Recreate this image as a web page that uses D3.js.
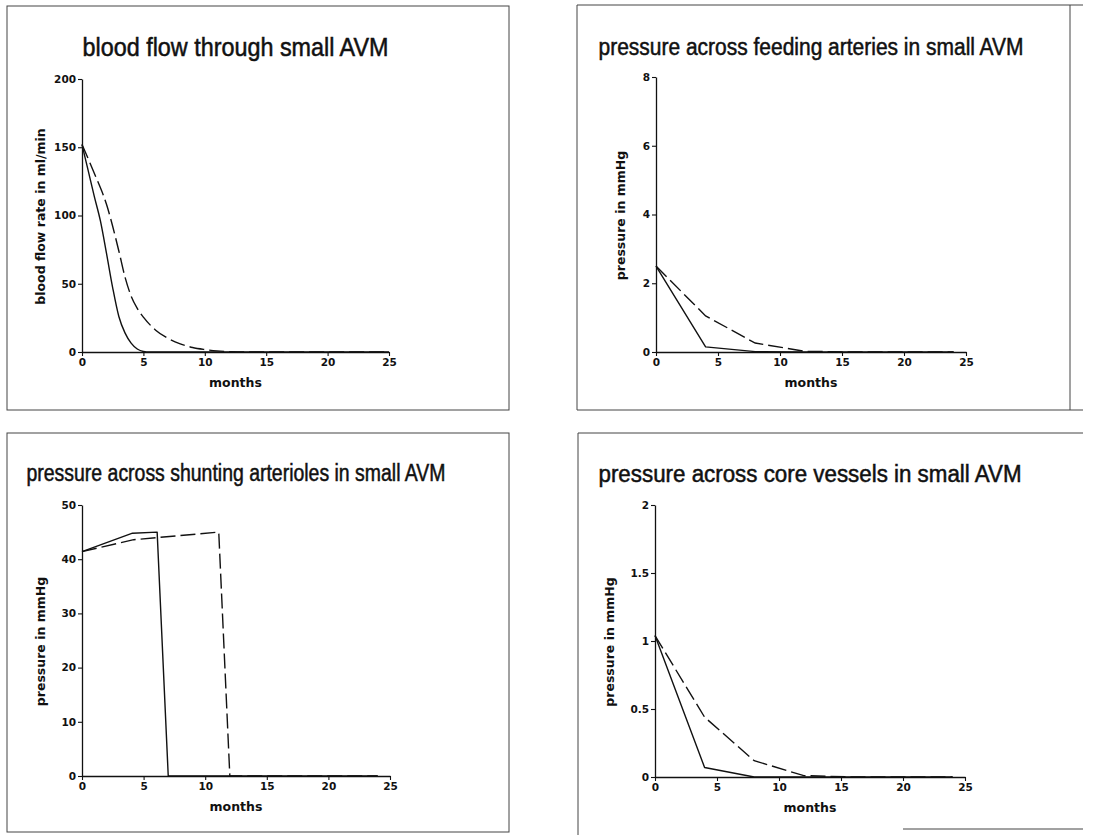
<!DOCTYPE html>
<html>
<head>
<meta charset="utf-8">
<script src="https://cdn.jsdelivr.net/npm/d3@7"></script>
<style>
  html, body { margin: 0; padding: 0; background: #fff; }
  svg { display: block; }
  .tick text { font-family: "DejaVu Sans", sans-serif; font-weight: bold; font-size: 10.5px; fill: #111; }
  .axis-label { font-family: "DejaVu Sans", sans-serif; font-weight: bold; font-size: 12.5px; fill: #111; }
  .title { font-family: "Liberation Sans", Arial, sans-serif; font-weight: normal; fill: #111; stroke: #111; stroke-width: 0.5px; }
</style>
</head>
<body>
<svg id="chart" width="1109" height="835"></svg>
<script>
// ---------- data ----------
const monthTicks = [0, 5, 10, 15, 20, 25];
const monthTickLabels = ["0", "5", "10", "15", "20", "25"];

const titles = [
  "blood flow through small AVM",
  "pressure across feeding arteries in small AVM",
  "pressure across shunting arterioles in small AVM",
  "pressure across core vessels in small AVM"
];
const yAxisLabels = ["blood flow rate in ml/min", "pressure in mmHg", "pressure in mmHg", "pressure in mmHg"];
const xAxisLabel = "months";

// panel 1: blood flow (ml/min)
const flowTicks = [0, 50, 100, 150, 200];
const flowTickLabels = ["0", "50", "100", "150", "200"];
const flowSolidMonths = [0, 0.5, 1, 1.5, 2, 2.5, 3, 3.5, 4, 4.5, 5, 5.5, 25];
const flowSolidValues = [152, 133, 114, 96, 72, 47, 26, 14, 6.5, 2.2, 0.4, 0, 0];
const flowDashedMonths = [0, 1, 2, 3, 3.5, 4, 4.5, 5, 6, 7, 8, 9, 10, 11, 12, 13, 25];
const flowDashedValues = [152, 131, 108, 74, 55, 41, 32, 25.5, 16, 10, 6, 3.3, 1.8, 0.8, 0.3, 0, 0];

// panel 2: feeding arteries (mmHg)
const feedTicks = [0, 2, 4, 6, 8];
const feedTickLabels = ["0", "2", "4", "6", "8"];
const feedMonths = [0, 4, 8, 12, 16, 20, 24];
const feedSolidValues = [2.5, 0.15, 0.01, 0, 0, 0, 0];
const feedDashedValues = [2.5, 1.05, 0.26, 0.02, 0, 0, 0];

// panel 3: shunting arterioles (mmHg)
const shuntTicks = [0, 10, 20, 30, 40, 50];
const shuntTickLabels = ["0", "10", "20", "30", "40", "50"];
const shuntSolidMonths = [0, 4.1, 6.1, 7.0, 24];
const shuntSolidValues = [41.4, 44.8, 45.0, 0, 0];
const shuntDashedMonths = [0, 4.2, 11.1, 12.0, 24];
const shuntDashedValues = [41.4, 43.6, 45.0, 0, 0];

// panel 4: core vessels (mmHg)
const coreTicks = [0, 0.5, 1, 1.5, 2];
const coreTickLabels = ["0", "0.5", "1", "1.5", "2"];
const coreMonths = [0, 4, 8, 12, 16, 20, 24];
const coreSolidValues = [1.04, 0.07, 0, 0, 0, 0, 0];
const coreDashedValues = [1.04, 0.44, 0.12, 0.01, 0, 0, 0];

// ---------- layout ----------
const zip = (xs, ys) => xs.map((x, i) => ({ x, y: ys[i] }));

const panels = [
  { x0: 82, x1: 389, yTop: 79, yBot: 352, yMax: 200, ticks: flowTicks, tickLabels: flowTickLabels,
    title: titles[0], titleBase: 56, titleW: 306, titleFs: 25, yLab: yAxisLabels[0], yLabX: 44.5,
    curve: d3.curveMonotoneX,
    solid: zip(flowSolidMonths, flowSolidValues), dashed: zip(flowDashedMonths, flowDashedValues) },
  { x0: 656, x1: 966, yTop: 77, yBot: 352, yMax: 8, ticks: feedTicks, tickLabels: feedTickLabels,
    title: titles[1], titleBase: 55, titleW: 425, titleFs: 23, yLab: yAxisLabels[1], yLabX: 625,
    curve: d3.curveLinear,
    solid: zip(feedMonths, feedSolidValues), dashed: zip(feedMonths, feedDashedValues) },
  { x0: 82, x1: 390, yTop: 505, yBot: 776, yMax: 50, ticks: shuntTicks, tickLabels: shuntTickLabels,
    title: titles[2], titleBase: 481, titleW: 419, titleFs: 23, yLab: yAxisLabels[2], yLabX: 44.5,
    curve: d3.curveLinear,
    solid: zip(shuntSolidMonths, shuntSolidValues), dashed: zip(shuntDashedMonths, shuntDashedValues) },
  { x0: 655, x1: 965, yTop: 505, yBot: 777, yMax: 2, ticks: coreTicks, tickLabels: coreTickLabels,
    title: titles[3], titleBase: 481.5, titleW: 423, titleFs: 23, yLab: yAxisLabels[3], yLabX: 614,
    curve: d3.curveLinear,
    solid: zip(coreMonths, coreSolidValues), dashed: zip(coreMonths, coreDashedValues) }
];

const svg = d3.select("#chart");

// ---------- frames ----------
const frameColor = "#444";
const frames = svg.append("g").attr("fill", "none").attr("stroke", frameColor).attr("stroke-width", 1);
frames.append("rect").attr("x", 7).attr("y", 6).attr("width", 502).attr("height", 404);
frames.append("rect").attr("x", 7).attr("y", 433).attr("width", 502).attr("height", 399);
frames.append("path").attr("d", "M577,410 L577,5 L1083,5 M577,410 L1083,410 M1070,5 L1070,410");
frames.append("path").attr("d", "M578,835 L578,433 L1083,433 M903,829 L1083,829");

// ---------- panels ----------
panels.forEach(p => {
  const g = svg.append("g");
  const x = d3.scaleLinear().domain([0, 25]).range([p.x0, p.x1]);
  const y = d3.scaleLinear().domain([0, p.yMax]).range([p.yBot, p.yTop]);

  const yAxis = d3.axisLeft(y).tickValues(p.ticks).tickFormat((d, i) => p.tickLabels[i])
    .tickSize(4).tickPadding(2).tickSizeOuter(0);
  const xAxis = d3.axisBottom(x).tickValues(monthTicks).tickFormat((d, i) => monthTickLabels[i])
    .tickSize(4).tickPadding(3).tickSizeOuter(0);

  const ya = g.append("g").attr("transform", `translate(${p.x0},0)`).call(yAxis);
  const xa = g.append("g").attr("transform", `translate(0,${p.yBot})`).call(xAxis);
  [ya, xa].forEach(a => {
    a.select(".domain").attr("stroke", "#111").attr("stroke-width", 1.3);
    a.selectAll(".tick line").attr("stroke", "#111").attr("stroke-width", 1.1);
  });

  const line = d3.line().x(d => x(d.x)).y(d => y(d.y)).curve(p.curve);
  g.append("path").datum(p.solid).attr("d", line)
    .attr("fill", "none").attr("stroke", "#111").attr("stroke-width", 1.4).attr("stroke-linejoin", "round");
  g.append("path").datum(p.dashed).attr("d", line)
    .attr("fill", "none").attr("stroke", "#111").attr("stroke-width", 1.4)
    .attr("stroke-dasharray", "15,5");

  g.append("text").attr("class", "title")
    .attr("x", (p.x0 + p.x1) / 2).attr("y", p.titleBase)
    .attr("text-anchor", "middle").style("font-size", p.titleFs + "px")
    .attr("textLength", p.titleW).attr("lengthAdjust", "spacingAndGlyphs")
    .text(p.title);

  g.append("text").attr("class", "axis-label")
    .attr("x", (p.x0 + p.x1) / 2).attr("y", p.yBot + 35)
    .attr("text-anchor", "middle").text(xAxisLabel);

  g.append("text").attr("class", "axis-label")
    .attr("transform", `translate(${p.yLabX},${(p.yTop + p.yBot) / 2 + 1}) rotate(-90)`)
    .attr("text-anchor", "middle").text(p.yLab);
});
</script>
</body>
</html>
